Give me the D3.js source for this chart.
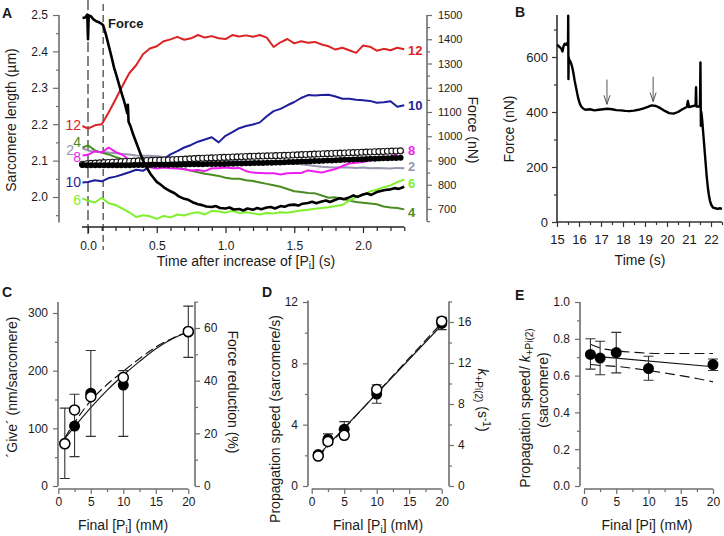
<!DOCTYPE html>
<html><head><meta charset="utf-8">
<script src="https://cdn.jsdelivr.net/npm/d3@7"></script>
<style>
body{margin:0;background:#fff;}
svg{display:block;font-family:Arial,"Liberation Sans",Helvetica,sans-serif;}
</style></head><body>
<svg id="fig" width="724" height="536"></svg>
<script>
// ---------------- DATA ----------------
// Panel A: sarcomere length traces (µm) vs time (s)
const tA = [-0.04,0,0.05,0.1,0.15,0.2,0.25,0.3,0.35,0.4,0.45,0.5,0.55,0.6,0.65,0.7,0.75,0.8,0.85,0.9,0.95,1.0,1.05,1.1,1.15,1.2,1.25,1.3,1.35,1.4,1.45,1.5,1.55,1.6,1.65,1.7,1.75,1.8,1.85,1.9,1.95,2.0,2.05,2.1,2.15,2.2,2.25,2.3];
const sl12 = [2.195,2.188,2.197,2.200,2.232,2.268,2.305,2.340,2.362,2.392,2.408,2.414,2.428,2.433,2.440,2.432,2.436,2.445,2.438,2.442,2.436,2.434,2.445,2.441,2.444,2.440,2.445,2.438,2.412,2.425,2.434,2.422,2.428,2.424,2.426,2.419,2.414,2.405,2.410,2.403,2.396,2.416,2.413,2.402,2.407,2.403,2.410,2.406];
const sl10 = [2.040,2.041,2.046,2.043,2.052,2.056,2.062,2.068,2.075,2.072,2.084,2.092,2.104,2.117,2.126,2.136,2.143,2.152,2.158,2.164,2.150,2.168,2.178,2.189,2.195,2.199,2.205,2.222,2.236,2.242,2.252,2.261,2.272,2.280,2.279,2.280,2.281,2.276,2.270,2.270,2.267,2.266,2.264,2.259,2.260,2.263,2.248,2.252];
const sl4 = [2.136,2.142,2.128,2.122,2.117,2.110,2.104,2.100,2.097,2.096,2.094,2.092,2.088,2.085,2.080,2.077,2.072,2.068,2.064,2.061,2.058,2.053,2.050,2.050,2.046,2.044,2.040,2.036,2.032,2.028,2.022,2.016,2.014,2.011,2.010,2.004,1.998,1.999,1.996,1.990,1.986,1.984,1.982,1.980,1.974,1.971,1.970,1.966];
const sl6 = [1.996,1.990,1.985,1.998,1.983,1.978,1.968,1.958,1.945,1.950,1.947,1.940,1.948,1.944,1.952,1.949,1.955,1.958,1.952,1.962,1.960,1.957,1.962,1.956,1.958,1.955,1.952,1.956,1.955,1.958,1.957,1.960,1.963,1.965,1.968,1.970,1.972,1.975,1.978,1.990,2.000,2.006,2.015,2.020,2.027,2.032,2.041,2.048];
const sl8 = [2.114,2.116,2.126,2.122,2.136,2.124,2.116,2.102,2.086,2.090,2.082,2.078,2.081,2.079,2.078,2.076,2.073,2.074,2.071,2.079,2.079,2.081,2.079,2.080,2.071,2.067,2.066,2.065,2.065,2.062,2.065,2.066,2.066,2.073,2.070,2.067,2.072,2.077,2.085,2.092,2.094,2.096,2.100,2.104,2.104,2.109,2.120,2.124];
const sl2 = [2.134,2.128,2.124,2.123,2.122,2.120,2.118,2.117,2.114,2.113,2.113,2.112,2.110,2.109,2.109,2.108,2.106,2.106,2.105,2.104,2.104,2.100,2.100,2.098,2.097,2.096,2.095,2.094,2.094,2.092,2.092,2.091,2.090,2.088,2.085,2.083,2.082,2.081,2.082,2.081,2.080,2.081,2.079,2.080,2.079,2.078,2.080,2.079];
const seriesNames = ["12","10","8","2","6","4"];
// averaged sarcomere length traces (open / filled circles)
const tAvg = [-0.04,0,0.2,0.4,0.6,0.8,1.0,1.2,1.4,1.6,1.8,2.0,2.2,2.3];
const slOpen = [2.090,2.092,2.096,2.100,2.102,2.106,2.109,2.112,2.114,2.117,2.120,2.123,2.126,2.127];
const slFilled = [2.088,2.087,2.087,2.088,2.089,2.090,2.091,2.093,2.095,2.098,2.101,2.104,2.107,2.108];
// force trace (nN)
const tF = [-0.04,-0.02,-0.005,0,0.005,0.02,0.04,0.06,0.08,0.1,0.11,0.13,0.15,0.17,0.19,0.21,0.23,0.25,0.27,0.285,0.29,0.295,0.31,0.33,0.35,0.37,0.4,0.43,0.46,0.5,0.53,0.56,0.6,0.63,0.66,0.7,0.73,0.76,0.8,0.83,0.86,0.9,0.93,0.96,1.0,1.03,1.06,1.1,1.13,1.16,1.2,1.23,1.26,1.3,1.33,1.36,1.4,1.43,1.46,1.5,1.53,1.56,1.6,1.63,1.66,1.7,1.73,1.76,1.8,1.83,1.86,1.9,1.93,1.96,2.0,2.03,2.06,2.1,2.13,2.16,2.2,2.23,2.26,2.3];
const forceA = [1488,1490,1502,1400,1498,1495,1482,1474,1470,1463,1458,1420,1375,1330,1282,1245,1205,1168,1130,1095,1130,1060,1040,1005,975,945,900,868,840,812,800,786,773,765,752,742,738,728,720,716,710,708,712,704,702,706,698,700,694,702,697,704,699,706,708,702,712,709,716,718,714,722,725,730,724,731,735,729,738,744,740,748,756,750,760,764,758,770,774,778,781,786,783,792];
const markTimes = [0, 0.11];
const ticksA_L = [2.0,2.1,2.2,2.3,2.4,2.5];
const ticksA_X = [0,0.5,1.0,1.5,2.0];
const ticksA_R = [700,800,900,1000,1100,1200,1300,1400,1500];

// Panel B: force vs time
const tB = [15.0,15.1,15.2,15.25,15.3,15.35,15.4,15.45,15.5,15.51,15.52,15.53,15.55,15.6,15.65,15.7,15.75,15.8,15.85,15.9,15.95,16.0,16.05,16.1,16.2,16.3,16.5,16.7,16.9,17.1,17.3,17.5,17.7,17.9,18.1,18.3,18.5,18.7,18.9,19.1,19.3,19.5,19.7,19.9,20.1,20.3,20.5,20.7,20.9,20.95,21.0,21.1,21.3,21.32,21.34,21.5,21.52,21.54,21.56,21.6,21.65,21.7,21.75,21.8,21.85,21.9,21.95,22.0,22.05,22.1,22.2,22.3,22.4,22.5];
const forceB = [645,638,630,620,640,648,645,650,640,750,520,600,590,585,575,560,540,515,495,475,455,440,428,420,412,408,410,406,408,410,412,410,407,406,404,403,405,408,412,418,424,422,414,404,396,394,400,410,418,440,418,420,424,490,420,420,580,350,400,370,320,270,220,170,130,100,78,65,57,52,50,48,50,48];
const arrowT = [17.27, 19.37];
const arrowTop = [518, 528];
const arrowBot = [428, 438];
const ticksB_X = [15,16,17,18,19,20,21,22];
const ticksB_Y = [0,200,400,600];

// Panels C-E: vs final [Pi] (mM)
const pi = [1, 2.5, 5, 10, 20];
const giveFilled = [74, 104, 161, 175, 267];
const giveLo = [13, 51, 86, 86, 223];
const giveHi = [135, 159, 235, 200, 312];
const forceRed = [16.0, 28.9, 33.9, 41.2, 58.7];
const fitX = [1, 2.5, 5, 7.5, 10, 12.5, 15, 17.5, 20];
const giveFitSolid = [82, 103, 136, 166, 192, 216, 238, 255, 267];
const giveFitDashed = [84, 110, 148, 176, 199, 221, 241, 256, 268];

const speedFilled = [2.05, 3.05, 3.7, 6.0, 10.6];
const speedLo = [1.9, 2.7, 3.2, 5.4, 10.2];
const speedHi = [2.2, 3.4, 4.2, 6.6, 11.0];
const kOpen = [2.92, 4.34, 4.94, 9.42, 16.08];
const lineX = [1, 20];
const speedFitSolid = [2.0, 10.5];
const speedFitDashed = [1.9, 10.65];

const ratio = [0.715, 0.695, 0.725, 0.638, 0.66];
const ratioLo = [0.635, 0.605, 0.615, 0.575, 0.628];
const ratioHi = [0.80, 0.787, 0.835, 0.705, 0.69];
const ratioFit = [0.707, 0.648];
const ratioUpper = [0.77, 0.75, 0.735, 0.727, 0.722, 0.72, 0.72, 0.72, 0.72];
const ratioLower = [0.66, 0.655, 0.65, 0.64, 0.628, 0.614, 0.6, 0.584, 0.566];

// ---------------- DRAW ----------------
const svg = d3.select("#fig");
const AXC = "#6e6e6e";
const TXT = "#1a1a1a";
const FONT = 'Arial,"Liberation Sans",Helvetica,sans-serif';

function axis(o) {
  const g = svg.append("g");
  const mk = o.orient === "left" ? d3.axisLeft : o.orient === "right" ? d3.axisRight : d3.axisBottom;
  const tr = o.orient === "bottom" ? `translate(0,${o.pos})` : `translate(${o.pos},0)`;
  if (o.minors) {
    const gm = g.append("g").attr("transform", tr)
      .call(mk(o.scale).tickValues(o.minors).tickSize(o.minLen || 3).tickFormat(""));
    gm.select(".domain").remove();
  }
  const ga = g.append("g").attr("transform", tr)
    .call(mk(o.scale).tickValues(o.majors).tickSize(o.majLen || 5).tickPadding(o.pad || 3)
      .tickFormat((d, i) => o.labels ? o.labels[i] : d));
  ga.select(".domain").remove();
  g.selectAll("g").attr("font-family", FONT).attr("font-size", o.fs || 12);
  g.selectAll("line").attr("stroke", o.color || AXC).attr("stroke-width", o.tw || 1.2);
  ga.selectAll("text").attr("fill", TXT).attr("font-size", o.fs || 12);
  const [a, b] = o.extent.map(o.scale);
  const ln = g.append("line").attr("stroke", o.color || AXC).attr("stroke-width", o.dw || 1.6);
  if (o.orient === "bottom") ln.attr("x1", a).attr("x2", b).attr("y1", o.pos).attr("y2", o.pos);
  else ln.attr("y1", a).attr("y2", b).attr("x1", o.pos).attr("x2", o.pos);
  return g;
}

function text(x, y, parts, opt = {}) {
  const t = svg.append("text").attr("x", x).attr("y", y)
    .attr("font-family", FONT).attr("font-size", opt.fs || 13).attr("fill", opt.fill || TXT)
    .attr("text-anchor", opt.anchor || "middle");
  if (opt.weight) t.attr("font-weight", opt.weight);
  if (opt.rot) t.attr("transform", `rotate(${opt.rot},${x},${y})`);
  (typeof parts === "string" ? [{ t: parts }] : parts).forEach(p => {
    const s = t.append("tspan").text(p.t);
    if (p.fs) s.attr("font-size", p.fs);
    if (p.dy) s.attr("dy", p.dy);
    if (p.it) s.attr("font-style", "italic");
  });
  return t;
}

// ===== Panel A =====
const xA = d3.scaleLinear().domain([0, 2]).range([88, 363]);
const yA = d3.scaleLinear().domain([2.0, 2.5]).range([197, 15]);
const yFA = d3.scaleLinear().domain([700, 1500]).range([209, 15]);

// vertical markers
svg.append("line").attr("x1", xA(markTimes[0])).attr("x2", xA(markTimes[0])).attr("y1", 0).attr("y2", 238)
  .attr("stroke", "#777").attr("stroke-width", 1.8).attr("stroke-dasharray", "10,4");
svg.append("line").attr("x1", xA(markTimes[1])).attr("x2", xA(markTimes[1])).attr("y1", 4).attr("y2", 250)
  .attr("stroke", "#111").attr("stroke-width", 1).attr("stroke-dasharray", "7,4");

axis({orient: "left", scale: yA, pos: 59, extent: [1.93, 2.5], majors: ticksA_L,
  labels: ticksA_L.map(d => d.toFixed(1)), minors: [1.95,2.05,2.15,2.25,2.35,2.45], majLen: 6, minLen: 3, pad: 5, fs: 12});
axis({orient: "bottom", scale: xA, pos: 227, extent: [-0.044, 2.3], majors: ticksA_X,
  labels: ticksA_X.map(d => d.toFixed(1)), minors: [0.1,0.2,0.3,0.4,0.6,0.7,0.8,0.9,1.1,1.2,1.3,1.4,1.6,1.7,1.8,1.9,2.1,2.2,2.3],
  majLen: 6, minLen: 4, pad: 8, fs: 12, color: "#222"});
axis({orient: "right", scale: yFA, pos: 427, extent: [648, 1500], majors: ticksA_R,
  minors: [650,750,850,950,1050,1150,1250,1350,1450], majLen: 5, minLen: 3, pad: 6, fs: 11});

const colorsA = {"12": "#dc2323", "10": "#1e1e9c", "8": "#ee1fee", "2": "#9696ae", "6": "#80f02c", "4": "#4b8c22"};
const dataA = {"12": sl12, "10": sl10, "8": sl8, "2": sl2, "6": sl6, "4": sl4};
const lineA = d3.line().x(d => xA(d[0])).y(d => yA(d[1]));
["2", "4", "6", "8", "10", "12"].forEach(k => {
  svg.append("path").attr("d", lineA(tA.map((t, i) => [t, dataA[k][i]])))
    .attr("fill", "none").attr("stroke", colorsA[k]).attr("stroke-width", 2).attr("stroke-linejoin", "round");
});

function markersAlong(pts, spacing) {
  const p = svg.append("path").attr("d", lineA(pts)).attr("fill", "none").attr("stroke", "none");
  const node = p.node(), L = node.getTotalLength(), out = [];
  for (let s = 0; s <= L; s += spacing) { const q = node.getPointAtLength(s); out.push([q.x, q.y]); }
  p.remove();
  return out;
}
const openPts = markersAlong(tAvg.map((t, i) => [t, slOpen[i]]), 4.3);
svg.append("g").selectAll("circle").data(openPts).join("circle")
  .attr("cx", d => d[0]).attr("cy", d => d[1]).attr("r", 3)
  .attr("fill", "#fff").attr("stroke", "#111").attr("stroke-width", 1.1);
const filledPts = markersAlong(tAvg.map((t, i) => [t, slFilled[i]]), 4.3);
svg.append("g").selectAll("circle").data(filledPts).join("circle")
  .attr("cx", d => d[0]).attr("cy", d => d[1]).attr("r", 3).attr("fill", "#000");

// force trace
svg.append("path").attr("d", d3.line().x(d => xA(d[0])).y(d => yFA(d[1]))(tF.map((t, i) => [t, forceA[i]])))
  .attr("fill", "none").attr("stroke", "#000").attr("stroke-width", 2.6).attr("stroke-linejoin", "round");

text(108, 28, "Force", {anchor: "start", weight: "bold", fs: 13});
// left labels
const leftLab = {"12": [81, 130], "4": [81, 147], "2": [74, 155], "8": [81, 162], "10": [81, 187], "6": [81, 205]};
Object.keys(leftLab).forEach(k => text(leftLab[k][0], leftLab[k][1], k, {anchor: "end", fs: 14, fill: colorsA[k]}));
const rightLab = {"12": 55, "10": 110, "8": 155, "2": 171, "6": 188, "4": 217};
Object.keys(rightLab).forEach(k => text(408, rightLab[k], k, {anchor: "start", fs: 13, weight: "bold", fill: colorsA[k]}));

text(16, 120, "Sarcomere length (µm)", {rot: -90, fs: 14});
text(246, 266, [{t: "Time after increase of [P"}, {t: "i", fs: 10, dy: 3}, {t: "] (s)", dy: -3}], {fs: 14});
text(468, 130, "Force (nN)", {rot: 90, fs: 14});
text(2, 18, "A", {anchor: "start", weight: "bold", fs: 14});

// ===== Panel B =====
const xB = d3.scaleLinear().domain([15, 22]).range([557, 711]);
const yB = d3.scaleLinear().domain([0, 600]).range([222, 57]);
axis({orient: "left", scale: yB, pos: 557, extent: [0, 753], majors: ticksB_Y, minors: [100,300,500,700],
  majLen: 5, minLen: 3, pad: 4, fs: 13, color: "#333"});
axis({orient: "bottom", scale: xB, pos: 222, extent: [15, 22.5], majors: ticksB_X,
  minors: [15.5,16.5,17.5,18.5,19.5,20.5,21.5,22.5], majLen: 5, minLen: 3, pad: 8, fs: 13, color: "#333"});
svg.append("path").attr("d", d3.line().x(d => xB(d[0])).y(d => yB(d[1]))(tB.map((t, i) => [t, forceB[i]])))
  .attr("fill", "none").attr("stroke", "#000").attr("stroke-width", 2.4).attr("stroke-linejoin", "round");
arrowT.forEach((t, i) => {
  const x = xB(t), y0 = yB(arrowTop[i]), y1 = yB(arrowBot[i]);
  svg.append("path").attr("d", `M${x},${y0}L${x},${y1}M${x - 3},${y1 - 9}L${x},${y1}L${x + 3},${y1 - 9}`)
    .attr("fill", "none").attr("stroke", "#555").attr("stroke-width", 1);
});
text(514, 129, "Force (nN)", {rot: -90, fs: 14});
text(640, 265, "Time (s)", {fs: 14});
text(515, 17, "B", {anchor: "start", weight: "bold", fs: 14});

// ===== Panel C =====
const xC = d3.scaleLinear().domain([0, 20]).range([58.3, 188.3]);
const yC = d3.scaleLinear().domain([0, 300]).range([486, 313]);
const yCr = d3.scaleLinear().domain([0, 60]).range([486, 328]);
axis({orient: "left", scale: yC, pos: 58, extent: [0, 319], majors: [0,100,200,300], minors: [50,150,250], majLen: 5, minLen: 3, pad: 5});
axis({orient: "right", scale: yCr, pos: 195, extent: [0, 70], majors: [0,20,40,60], minors: [10,30,50,70], majLen: 5, minLen: 3, pad: 4});
axis({orient: "bottom", scale: xC, pos: 489, extent: [0, 20], majors: [0,5,10,15,20], minors: [2.5,7.5,12.5,17.5], majLen: 5, minLen: 3, pad: 3});
const lnC = d3.line().x(d => xC(d[0])).y(d => yC(d[1])).curve(d3.curveMonotoneX);
svg.append("path").attr("d", lnC(fitX.map((x, i) => [x, giveFitSolid[i]]))).attr("fill", "none").attr("stroke", "#111").attr("stroke-width", 1.1);
svg.append("path").attr("d", lnC(fitX.map((x, i) => [x, giveFitDashed[i]]))).attr("fill", "none").attr("stroke", "#111").attr("stroke-width", 1.1).attr("stroke-dasharray", "9,4");
function errbars(xs, lo, hi, xs_, ys_) {
  xs.forEach((x, i) => {
    const cx = xs_(x), a = ys_(lo[i]), b = ys_(hi[i]);
    svg.append("path").attr("d", `M${cx},${a}L${cx},${b}M${cx - 5},${a}L${cx + 5},${a}M${cx - 5},${b}L${cx + 5},${b}`)
      .attr("fill", "none").attr("stroke", "#333").attr("stroke-width", 1.1);
  });
}
errbars(pi, giveLo, giveHi, xC, yC);
svg.append("g").selectAll("circle").data(pi).join("circle").attr("cx", d => xC(d)).attr("cy", (d, i) => yC(giveFilled[i]))
  .attr("r", 5.5).attr("fill", "#000");
svg.append("g").selectAll("circle").data(pi).join("circle").attr("cx", d => xC(d)).attr("cy", (d, i) => yCr(forceRed[i]))
  .attr("r", 5).attr("fill", "#fff").attr("stroke", "#000").attr("stroke-width", 1.5);
text(17, 387, "´Give´ (nm/sarcomere)", {rot: -90, fs: 14});
text(228, 392, "Force reduction (%)", {rot: 90, fs: 14});
text(123, 530, [{t: "Final [P"}, {t: "i", fs: 10, dy: 3}, {t: "] (mM)", dy: -3}], {fs: 14});
text(2, 297, "C", {anchor: "start", weight: "bold", fs: 14});

// ===== Panel D =====
const xD = d3.scaleLinear().domain([0, 20]).range([311.7, 441.7]);
const yD = d3.scaleLinear().domain([0, 12]).range([486, 302]);
const yDr = d3.scaleLinear().domain([0, 16]).range([486, 322]);
axis({orient: "left", scale: yD, pos: 308, extent: [0, 12.1], majors: [0,4,8,12], minors: [2,6,10], majLen: 5, minLen: 3, pad: 5});
axis({orient: "right", scale: yDr, pos: 449, extent: [0, 18], majors: [0,4,8,12,16], minors: [2,6,10,14,18], majLen: 5, minLen: 3, pad: 4});
axis({orient: "bottom", scale: xD, pos: 489, extent: [0, 20], majors: [0,5,10,15,20], minors: [2.5,7.5,12.5,17.5], majLen: 5, minLen: 3, pad: 3});
const lnD = d3.line().x(d => xD(d[0])).y(d => yD(d[1]));
svg.append("path").attr("d", lnD(lineX.map((x, i) => [x, speedFitSolid[i]]))).attr("fill", "none").attr("stroke", "#111").attr("stroke-width", 1.1);
svg.append("path").attr("d", lnD(lineX.map((x, i) => [x, speedFitDashed[i]]))).attr("fill", "none").attr("stroke", "#111").attr("stroke-width", 1.1).attr("stroke-dasharray", "9,4");
errbars(pi, speedLo, speedHi, xD, yD);
svg.append("g").selectAll("circle").data(pi).join("circle").attr("cx", d => xD(d)).attr("cy", (d, i) => yD(speedFilled[i]))
  .attr("r", 5.5).attr("fill", "#000");
svg.append("g").selectAll("circle").data(pi).join("circle").attr("cx", d => xD(d)).attr("cy", (d, i) => yDr(kOpen[i]))
  .attr("r", 5).attr("fill", "#fff").attr("stroke", "#000").attr("stroke-width", 1.5);
text(280, 419, "Propagation speed (sarcomere/s)", {rot: -90, fs: 14});
text(478, 400, [{t: "k", it: true}, {t: "+Pi(2)", fs: 10, dy: 3}, {t: " (s", dy: -3}, {t: "-1", fs: 10, dy: -5}, {t: ")", dy: 5}], {rot: 90, fs: 14});
text(378, 530, [{t: "Final [P"}, {t: "i", fs: 10, dy: 3}, {t: "] (mM)", dy: -3}], {fs: 14});
text(262, 297, "D", {anchor: "start", weight: "bold", fs: 14});

// ===== Panel E =====
const xE = d3.scaleLinear().domain([0, 20]).range([584, 713]);
const yE = d3.scaleLinear().domain([0, 1]).range([486, 302]);
axis({orient: "left", scale: yE, pos: 580, extent: [0, 1], majors: [0,0.2,0.4,0.6,0.8,1.0],
  labels: ["0.0","0.2","0.4","0.6","0.8","1.0"], minors: [0.1,0.3,0.5,0.7,0.9], majLen: 5, minLen: 3, pad: 5});
axis({orient: "bottom", scale: xE, pos: 489, extent: [0, 20], majors: [0,5,10,15,20], minors: [2.5,7.5,12.5,17.5], majLen: 5, minLen: 3, pad: 3});
const lnE = d3.line().x(d => xE(d[0])).y(d => yE(d[1])).curve(d3.curveMonotoneX);
svg.append("path").attr("d", lnE(lineX.map((x, i) => [x, ratioFit[i]]))).attr("fill", "none").attr("stroke", "#111").attr("stroke-width", 1.1);
svg.append("path").attr("d", lnE(fitX.map((x, i) => [x, ratioUpper[i]]))).attr("fill", "none").attr("stroke", "#111").attr("stroke-width", 1.1).attr("stroke-dasharray", "10,5");
svg.append("path").attr("d", lnE(fitX.map((x, i) => [x, ratioLower[i]]))).attr("fill", "none").attr("stroke", "#111").attr("stroke-width", 1.1).attr("stroke-dasharray", "10,5");
errbars(pi, ratioLo, ratioHi, xE, yE);
svg.append("g").selectAll("circle").data(pi).join("circle").attr("cx", d => xE(d)).attr("cy", (d, i) => yE(ratio[i]))
  .attr("r", 5.5).attr("fill", "#000");
text(530, 408, [{t: "Propagation speed/ "}, {t: "k", it: true}, {t: "+Pi(2)", fs: 10, dy: 3}], {rot: -90, fs: 14});
text(548, 390, "(sarcomere)", {rot: -90, fs: 14});
text(647, 530, "Final [Pi] (mM)", {fs: 14});
text(515, 300, "E", {anchor: "start", weight: "bold", fs: 14});
</script></body></html>
